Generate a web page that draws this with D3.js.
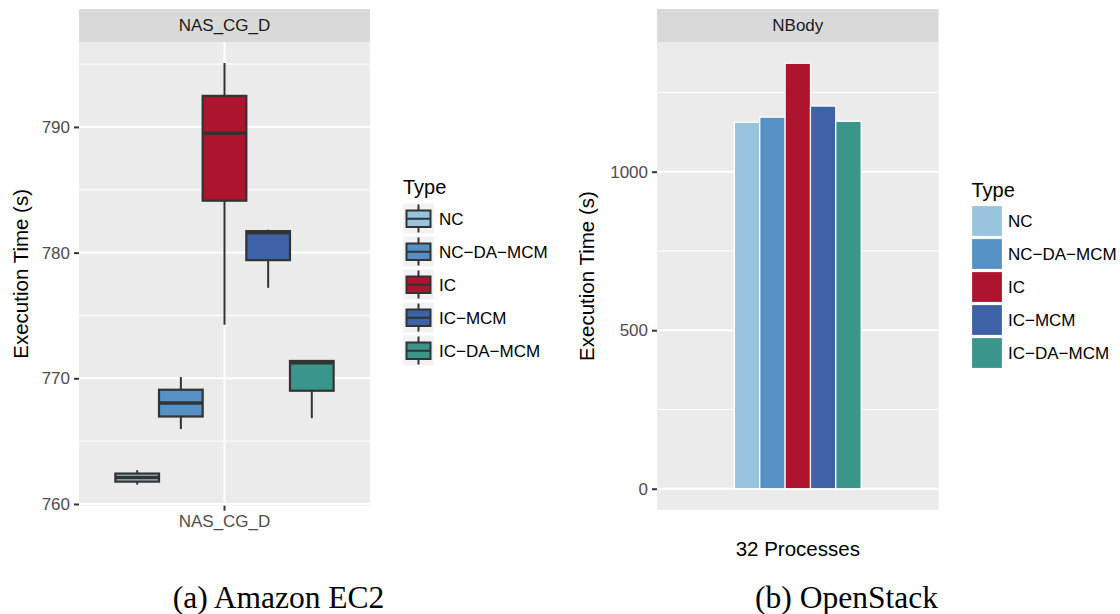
<!DOCTYPE html>
<html>
<head>
<meta charset="utf-8">
<script src="https://cdn.jsdelivr.net/npm/d3@7"></script>
<style>
  body { margin: 0; background: #ffffff; }
  text { font-family: "Liberation Sans", Arial, Helvetica, sans-serif; }
</style>
</head>
<body>
<div id="chart"></div>
<script>
// legend / dodge order
var types = ["NC", "NC\u2212DA\u2212MCM", "IC", "IC\u2212MCM", "IC\u2212DA\u2212MCM"];

// (a) Amazon EC2, NAS_CG_D boxplot stats per type (s)
var ec2Category = ["NAS_CG_D"];
var ec2Low    = [761.54, 765.96, 774.27, 777.20, 766.83];
var ec2Q1     = [761.78, 766.96, 784.13, 779.40, 769.01];
var ec2Median = [762.10, 768.03, 789.50, 781.58, 771.24];
var ec2Q3     = [762.42, 769.09, 792.47, 781.71, 771.38];
var ec2High   = [762.69, 770.10, 795.08, 781.82, 771.42];
var ec2Ticks  = [760, 770, 780, 790];
var ec2Minor  = [765, 775, 785, 795];

// (b) OpenStack, NBody 32 processes (s)
var osTimes = [1156, 1172, 1342, 1207, 1159];
var osTicks = [0, 500, 1000];
var osMinor = [250, 750, 1250];

var palette = ["#98c4dd", "#5591c4", "#ad142e", "#3d62a8", "#3a958b"];
var color = d3.scaleOrdinal().domain(types).range(palette);

var svg = d3.select("#chart")
  .append("svg")
  .attr("width", 1120)
  .attr("height", 614);

var smallFont = "17px", titleFont = "20.5px";

function panelFrame(g, w, h, stripText, y, ticks, minor) {
  g.append("rect").attr("x", 0).attr("y", 0).attr("width", w).attr("height", h).attr("fill", "#ebebeb");
  g.selectAll(".minor").data(minor).enter().append("line")
    .attr("x1", 0).attr("x2", w)
    .attr("y1", function(d) { return y(d); }).attr("y2", function(d) { return y(d); })
    .attr("stroke", "#ffffff").attr("stroke-width", 1);
  g.selectAll(".major").data(ticks).enter().append("line")
    .attr("x1", 0).attr("x2", w)
    .attr("y1", function(d) { return y(d); }).attr("y2", function(d) { return y(d); })
    .attr("stroke", "#ffffff").attr("stroke-width", 2);

  // strip
  g.append("rect").attr("x", 0).attr("y", -33).attr("width", w).attr("height", 33).attr("fill", "#d9d9d9");
  g.append("text").attr("x", w / 2).attr("y", -11)
    .attr("text-anchor", "middle").style("font-size", smallFont).style("fill", "#1a1a1a")
    .text(stripText);

  var ya = g.append("g")
    .call(d3.axisLeft(y).tickValues(ticks).tickSize(5).tickPadding(4).tickFormat(d3.format("d")));
  ya.select(".domain").remove();
  ya.selectAll("line").attr("stroke", "#333333").attr("stroke-width", 2);
  ya.selectAll("text").style("font-size", smallFont).style("fill", "#4d4d4d");
}

function yTitle(x, yc) {
  svg.append("text")
    .attr("transform", "translate(" + x + "," + yc + ")rotate(-90)")
    .attr("text-anchor", "middle").style("font-size", titleFont).style("fill", "#000000")
    .text("Execution Time (s)");
}

// ---------- (a) Amazon EC2 ----------
var aLeft = 79, aTop = 42, aW = 291, aH = 463.7;
var ga = svg.append("g").attr("transform", "translate(" + aLeft + "," + aTop + ")");

var ecMin = d3.min(ec2Low), ecMax = d3.max(ec2High), ecPad = (ecMax - ecMin) * 0.05;
var ya = d3.scaleLinear().domain([ecMin - ecPad, ecMax + ecPad]).range([aH, 0]);
var xa = d3.scaleBand().domain(ec2Category).range([0, aW]).paddingOuter(0.1);
// dodge boxes over 0.9 of the category width (ggplot default)
var xaCenter = xa(ec2Category[0]) + xa.bandwidth() / 2;
var unitA = aW / 1.2;
var xaType = d3.scaleBand().domain(types).range([xaCenter - 0.45 * unitA, xaCenter + 0.45 * unitA]);

panelFrame(ga, aW, aH, "NAS_CG_D", ya, ec2Ticks, ec2Minor);
ga.append("line").attr("x1", xaCenter).attr("x2", xaCenter).attr("y1", 0).attr("y2", aH)
  .attr("stroke", "#ffffff").attr("stroke-width", 2);

var boxes = types.map(function(t, i) {
  return { type: t, low: ec2Low[i], q1: ec2Q1[i], med: ec2Median[i], q3: ec2Q3[i], high: ec2High[i] };
});

var bg = ga.selectAll(".box").data(boxes).enter().append("g");
bg.append("line")
  .attr("x1", function(d) { return xaType(d.type) + xaType.bandwidth() / 2; })
  .attr("x2", function(d) { return xaType(d.type) + xaType.bandwidth() / 2; })
  .attr("y1", function(d) { return ya(d.low); })
  .attr("y2", function(d) { return ya(d.high); })
  .attr("stroke", "#333333").attr("stroke-width", 2);
bg.append("rect")
  .attr("x", function(d) { return xaType(d.type); })
  .attr("y", function(d) { return ya(d.q3); })
  .attr("width", xaType.bandwidth())
  .attr("height", function(d) { return ya(d.q1) - ya(d.q3); })
  .attr("fill", function(d) { return color(d.type); })
  .attr("stroke", "#333333").attr("stroke-width", 2.2);
bg.append("line")
  .attr("x1", function(d) { return xaType(d.type); })
  .attr("x2", function(d) { return xaType(d.type) + xaType.bandwidth(); })
  .attr("y1", function(d) { return ya(d.med); })
  .attr("y2", function(d) { return ya(d.med); })
  .attr("stroke", "#333333").attr("stroke-width", 3.5);

var xaAxis = ga.append("g").attr("transform", "translate(0," + aH + ")")
  .call(d3.axisBottom(xa).tickSize(5).tickPadding(4));
xaAxis.select(".domain").remove();
xaAxis.selectAll("line").attr("stroke", "#333333").attr("stroke-width", 2);
xaAxis.selectAll("text").style("font-size", smallFont).style("fill", "#4d4d4d");

yTitle(28, aTop + aH / 2);

// legend (a)
var la = svg.append("g").attr("transform", "translate(403,0)");
la.append("text").attr("x", 0).attr("y", 194).style("font-size", "20px").style("fill", "#000").text("Type");
var lai = la.selectAll(".key").data(types).enter().append("g")
  .attr("transform", function(d, i) { return "translate(0," + (203.5 + i * 33) + ")"; });
lai.append("rect").attr("width", 31).attr("height", 30).attr("fill", "#f2f2f2");
lai.append("line").attr("x1", 15.5).attr("x2", 15.5).attr("y1", 1).attr("y2", 29)
  .attr("stroke", "#333333").attr("stroke-width", 2);
lai.append("rect").attr("x", 3.5).attr("y", 7).attr("width", 24).attr("height", 16.5)
  .attr("fill", function(d) { return color(d); }).attr("stroke", "#333333").attr("stroke-width", 2);
lai.append("line").attr("x1", 3.5).attr("x2", 27.5).attr("y1", 15.25).attr("y2", 15.25)
  .attr("stroke", "#333333").attr("stroke-width", 2);
lai.append("text").attr("x", 36).attr("y", 21).style("font-size", smallFont).style("fill", "#000").text(function(d) { return d; });

// ---------- (b) OpenStack ----------
var bLeft = 657, bTop = 42, bW = 281.6, bH = 468;
var gb = svg.append("g").attr("transform", "translate(" + bLeft + "," + bTop + ")");

var osMax = d3.max(osTimes), osPad = osMax * 0.05;
var yb = d3.scaleLinear().domain([-osPad, osMax + osPad]).range([bH, 0]);
var unitB = bW / 1.2;
var xbType = d3.scaleBand().domain(types).range([bW / 2 - 0.27 * unitB, bW / 2 + 0.27 * unitB]);

panelFrame(gb, bW, bH, "NBody", yb, osTicks, osMinor);

gb.selectAll(".bar").data(types).enter().append("rect")
  .attr("x", function(d) { return xbType(d); })
  .attr("y", function(d, i) { return yb(osTimes[i]); })
  .attr("width", xbType.bandwidth())
  .attr("height", function(d, i) { return yb(0) - yb(osTimes[i]); })
  .attr("fill", function(d) { return color(d); })
  .attr("stroke", "#ffffff").attr("stroke-width", 1.2);

svg.append("text").attr("x", bLeft + bW / 2).attr("y", 556)
  .attr("text-anchor", "middle").style("font-size", titleFont).style("fill", "#000")
  .text("32 Processes");

yTitle(594, bTop + bH / 2);

// legend (b)
var lb = svg.append("g").attr("transform", "translate(971.5,0)");
lb.append("text").attr("x", 0).attr("y", 196.5).style("font-size", "20px").style("fill", "#000").text("Type");
var lbi = lb.selectAll(".key").data(types).enter().append("g")
  .attr("transform", function(d, i) { return "translate(0," + (205.5 + i * 33) + ")"; });
lbi.append("rect").attr("width", 31).attr("height", 31)
  .attr("fill", function(d) { return color(d); }).attr("stroke", "#ffffff").attr("stroke-width", 1.2);
lbi.append("text").attr("x", 36.5).attr("y", 21.5).style("font-size", smallFont).style("fill", "#000").text(function(d) { return d; });

// captions
svg.append("text").attr("x", 278.5).attr("y", 608).attr("text-anchor", "middle")
  .style("font-family", "'Liberation Serif', 'Times New Roman', serif").style("font-size", "31.5px")
  .text("(a) Amazon EC2");
svg.append("text").attr("x", 846.5).attr("y", 608).attr("text-anchor", "middle")
  .style("font-family", "'Liberation Serif', 'Times New Roman', serif").style("font-size", "31.5px")
  .text("(b) OpenStack");
</script>
</body>
</html>
